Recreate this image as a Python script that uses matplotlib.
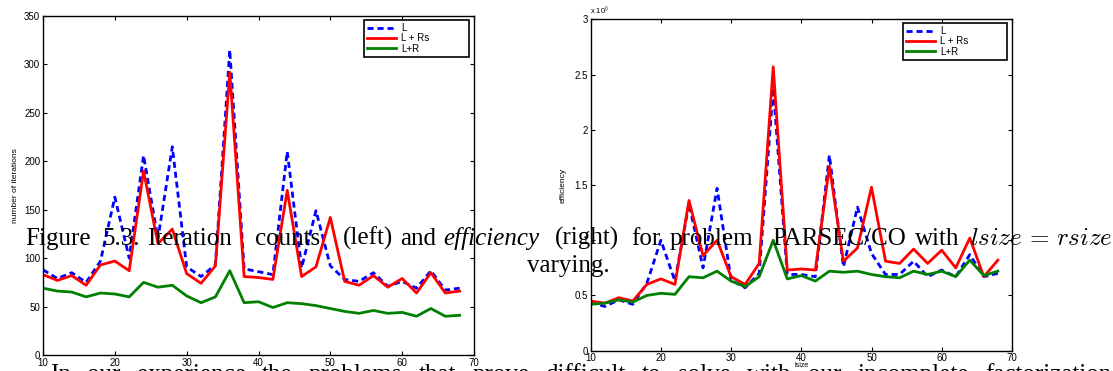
import matplotlib
matplotlib.use('Agg')
import matplotlib.pyplot as plt

plt.rcParams['font.family'] = ['Liberation Sans', 'DejaVu Sans']
plt.rcParams['mathtext.fontset'] = 'cm'

# lsize = rsize values
lsize = [10, 12, 14, 16, 18, 20, 22, 24, 26, 28,
         30, 32, 34, 36, 38, 40, 42, 44, 46, 48,
         50, 52, 54, 56, 58, 60, 62, 64, 66, 68]

# number of iterations (left)
iters_L = [88, 79, 85, 75, 97, 163, 100, 206, 120, 215,
           91, 81, 93, 315, 89, 86, 83, 210, 90, 149,
           92, 78, 76, 85, 71, 76, 69, 87, 67, 69]
iters_LRs = [83, 77, 82, 72, 93, 97, 87, 190, 115, 130,
             84, 74, 92, 292, 81, 80, 78, 170, 81, 91,
             142, 76, 72, 82, 70, 79, 64, 85, 64, 66]
iters_LR = [69, 66, 65, 60, 64, 63, 60, 75, 70, 72,
            61, 54, 60, 87, 54, 55, 49, 54, 53, 51,
            48, 45, 43, 46, 43, 44, 40, 48, 40, 41]

# efficiency (right), in units of 1e9
eff_L = [0.44, 0.40, 0.46, 0.42, 0.61, 1.00, 0.63, 1.33, 0.75, 1.47,
         0.64, 0.57, 0.70, 2.38, 0.69, 0.69, 0.67, 1.77, 0.76, 1.30,
         0.88, 0.69, 0.69, 0.81, 0.67, 0.73, 0.67, 0.87, 0.67, 0.70]
eff_LRs = [0.45, 0.43, 0.48, 0.45, 0.60, 0.65, 0.60, 1.36, 0.86, 1.00,
           0.67, 0.60, 0.79, 2.57, 0.73, 0.74, 0.73, 1.67, 0.81, 0.93,
           1.48, 0.81, 0.79, 0.92, 0.79, 0.91, 0.75, 1.02, 0.67, 0.82]
eff_LR = [0.42, 0.43, 0.46, 0.44, 0.50, 0.52, 0.51, 0.67, 0.66, 0.72,
          0.63, 0.58, 0.67, 1.00, 0.65, 0.68, 0.63, 0.72, 0.71, 0.72,
          0.69, 0.67, 0.66, 0.72, 0.69, 0.72, 0.67, 0.82, 0.68, 0.72]

W, H = 1113, 371
fig = plt.figure(figsize=(W / 100, H / 100), dpi=100)


def px_rect(x0, y0, x1, y1):
    return [x0 / W, 1 - y1 / H, (x1 - x0) / W, (y1 - y0) / H]


def style_axes(ax):
    ax.tick_params(direction='in', top=True, right=True, length=3,
                   width=0.8, labelsize=7, pad=2)
    for s in ax.spines.values():
        s.set_linewidth(1.0)


def add_legend(ax, x0, y0, x1, y1):
    leg = ax.legend(loc='upper left', bbox_to_anchor=px_rect(x0, y0, x1, y1),
                    bbox_transform=fig.transFigure, borderaxespad=0,
                    mode='expand', fontsize=7, handlelength=3.0,
                    handletextpad=0.5, labelspacing=0.05, borderpad=0.3,
                    fancybox=False, framealpha=1)
    leg.get_frame().set_edgecolor('black')
    leg.get_frame().set_linewidth(1.2)


def draw_lines(ax, yL, yLRs, yLR):
    ax.plot(lsize, yL, '--', color='blue', lw=2, dashes=(2.2, 1.4), label='L')
    ax.plot(lsize, yLRs, '-', color='red', lw=2, label='L + Rs')
    ax.plot(lsize, yLR, '-', color='green', lw=2, label='L+R')


# left: iteration counts
ax1 = fig.add_axes(px_rect(43, 16, 474, 355))
draw_lines(ax1, iters_L, iters_LRs, iters_LR)
ax1.set_xlim(10, 70)
ax1.set_ylim(0, 350)
ax1.set_xticks([10, 20, 30, 40, 50, 60, 70])
ax1.set_yticks([0, 50, 100, 150, 200, 250, 300, 350])
ax1.set_ylabel('number of iterations', fontsize=6, labelpad=4)
style_axes(ax1)
add_legend(ax1, 364, 20, 469, 58)

# right: efficiency
ax2 = fig.add_axes(px_rect(590.7, 19.3, 1011.9, 350.7))
draw_lines(ax2, eff_L, eff_LRs, eff_LR)
ax2.set_xlim(10, 70)
ax2.set_ylim(0, 3)
ax2.set_xticks([10, 20, 30, 40, 50, 60, 70])
ax2.set_yticks([0, 0.5, 1, 1.5, 2, 2.5, 3])
ax2.set_yticklabels(['0', '0.5', '1', '1.5', '2', '2.5', '3'])
ax2.set_ylabel('efficiency', fontsize=6, labelpad=6)
ax2.set_xlabel('lsize', fontsize=5, labelpad=-1)
style_axes(ax2)
add_legend(ax2, 903, 23, 1007, 62)
fig.text(590 / W, 1 - 14 / H, r'x 10$^9$', fontsize=5.5, ha='left',
         va='baseline', family='Liberation Sans')

# overlaid page text
serif = ['Liberation Serif', 'DejaVu Serif']
line1 = [('Figure', 25), ('5.3.', 102), ('Iteration', 147), ('counts', 255),
         ('(left)', 343), ('and', 400), ('(right)', 555),
         ('for', 631), ('problem', 670), ('PARSEC/CO', 772), ('with', 915),
         (r'$lsize\,=\,rsize$', 970)]
for word, x in line1:
    fig.text(x / W, 1 - 245 / H, word, fontsize=18, family=serif,
             ha='left', va='baseline')
fig.text(443 / W, 1 - 245 / H, 'efficiency', fontsize=18, family=serif,
         style='italic', ha='left', va='baseline')
fig.text(527 / W, 1 - 272 / H, 'varying.', fontsize=18, family=serif,
         ha='left', va='baseline')

# justified first line of the next paragraph, cut by the bottom edge
line3 = 'In our experience the problems that prove difficult to solve with our incomplete factorization'.split()
x_start, x_last = 50, 985
renderer = fig.canvas.get_renderer()
texts = [fig.text(0, 1 - 381 / H, w, fontsize=18, family=serif,
                  ha='left', va='baseline') for w in line3]
widths = [t.get_window_extent(renderer).width for t in texts]
gap = (x_last - x_start - sum(widths[:-1])) / (len(line3) - 1)
x = x_start
for t, w in zip(texts, widths):
    t.set_x(x / W)
    x += w + gap

fig.savefig('out.png', dpi=100)
